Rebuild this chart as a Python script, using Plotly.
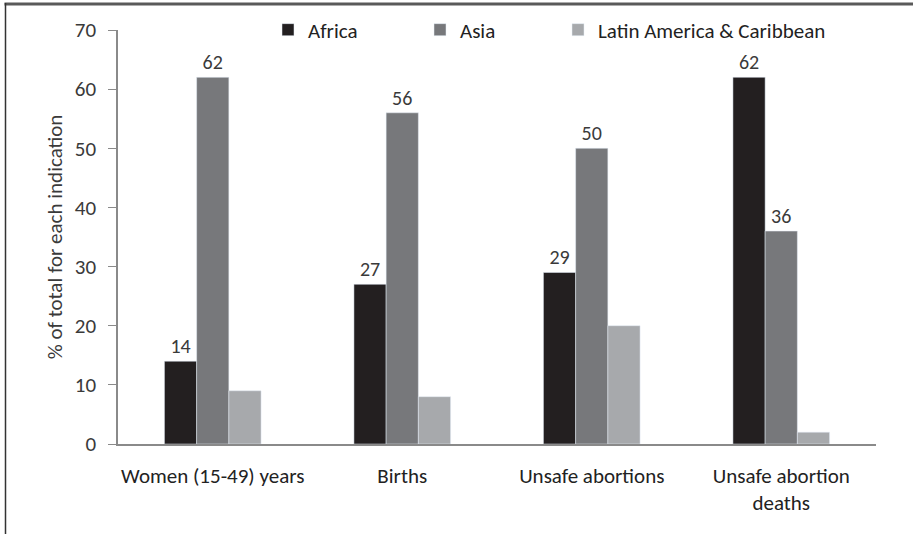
import plotly.graph_objects as go

categories = ["Women (15-49) years", "Births", "Unsafe abortions", "Unsafe abortion<br>deaths"]
africa = [14, 27, 29, 62]
asia = [62, 56, 50, 36]
latin = [9, 8, 20, 2]
series_names = ["Africa", "Asia", "Latin America & Caribbean"]
y_ticks = [0, 10, 20, 30, 40, 50, 60, 70]

colors = ["#231f20", "#77787b", "#a7a9ac"]
font_fam = "Carlito, Lato, sans-serif"
txtcol = "#3a3a3a"

W, H = 913, 534


def fx(x):
    return x / W


def fy(y):
    return 1 - y / H


fig = go.Figure()
fig.add_trace(go.Bar(x=categories, y=africa, name=series_names[0], marker_color=colors[0],
                     text=[str(v) for v in africa], textposition="outside", cliponaxis=False,
                     textfont=dict(size=20, color=txtcol, family=font_fam), legend="legend"))
fig.add_trace(go.Bar(x=categories, y=asia, name=series_names[1], marker_color=colors[1],
                     text=[str(v) for v in asia], textposition="outside", cliponaxis=False,
                     textfont=dict(size=20, color=txtcol, family=font_fam), legend="legend2"))
fig.add_trace(go.Bar(x=categories, y=latin, name=series_names[2], marker_color=colors[2],
                     legend="legend3"))

leg_common = dict(orientation="h", xanchor="left", yanchor="middle", y=fy(30),
                  font=dict(size=21, family=font_fam, color="#222"),
                  itemwidth=30, bgcolor="rgba(0,0,0,0)", borderwidth=0)

fig.update_layout(
    width=W, height=H,
    margin=dict(l=0, r=0, t=0, b=0, pad=0, autoexpand=False),
    paper_bgcolor="white", plot_bgcolor="white",
    barmode="group", bargap=0.49, bargroupgap=0,
    font=dict(family=font_fam, color=txtcol, size=20),
    showlegend=True,
    legend=dict(x=fx(268), **leg_common),
    legend2=dict(x=fx(420), **leg_common),
    legend3=dict(x=fx(558), **leg_common),
    xaxis=dict(domain=[fx(118), fx(876)], showline=True, linecolor="#8a8a8a", linewidth=1.5,
               ticks="", showgrid=False, automargin=False,
               tickfont=dict(size=21, family=font_fam, color="#222"), ticklabelstandoff=12),
    yaxis=dict(domain=[fy(444), fy(30)], range=[0, 70], tickvals=y_ticks, showline=True,
               linecolor="#8a8a8a", linewidth=1.5, automargin=False,
               ticks="outside", ticklen=8, tickcolor="#8a8a8a", showgrid=False, zeroline=False,
               ticklabelstandoff=8,
               tickfont=dict(size=21, family=font_fam, color=txtcol),
               title=dict(text="% of total for each indication", standoff=6,
                          font=dict(size=21, family=font_fam, color=txtcol))),
    shapes=[
        dict(type="line", xref="paper", yref="paper", x0=fx(4.5), x1=1,
             y0=fy(4), y1=fy(4), line=dict(color="#5a5a5a", width=3), layer="above"),
        dict(type="line", xref="paper", yref="paper", x0=fx(5.5), x1=fx(5.5),
             y0=fy(3), y1=0, line=dict(color="#333333", width=1.5), layer="above"),
    ],
)

fig.write_html("out.html", config={"displayModeBar": False})
